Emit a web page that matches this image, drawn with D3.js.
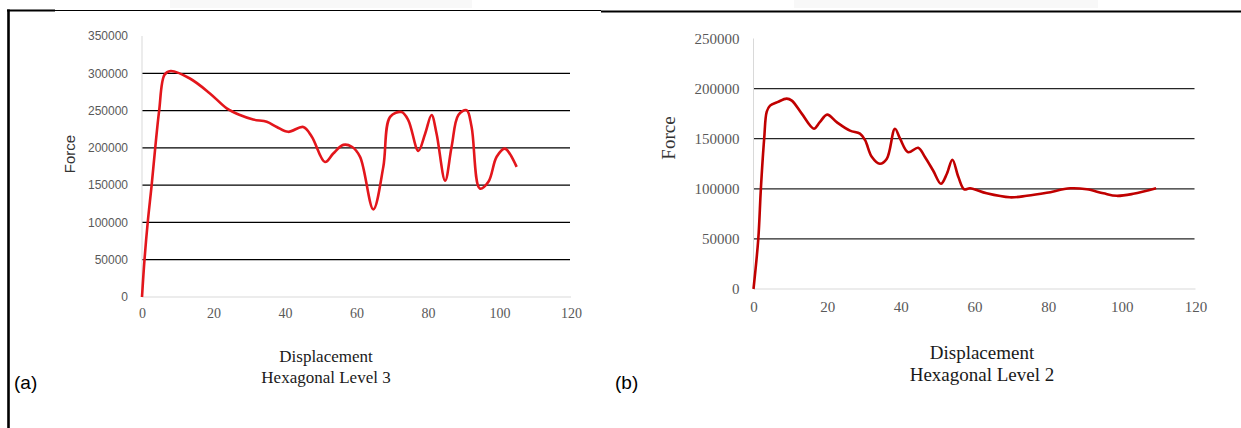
<!DOCTYPE html>
<html>
<head>
<meta charset="utf-8">
<script src="https://cdn.jsdelivr.net/npm/d3@7"></script>
<style>
    body { margin: 0; background: #fff; }
    svg { display: block; }
</style>
</head>
<body>
<svg id="fig" width="1241" height="428"></svg>
<script>
// ---- data ----
const xTicks = [0, 20, 40, 60, 80, 100, 120];

// (a) Hexagonal Level 3
const yTicksA = [0, 50000, 100000, 150000, 200000, 250000, 300000, 350000];
const gridA = [50000, 100000, 150000, 200000, 250000, 300000];
const dispA = [0, 0.7, 1.6, 2.7, 3.7, 4.8, 6.3, 8, 13.4, 19, 23.7, 27.4, 31.1, 34.9, 37.7, 40.9, 45.1, 47.5,
    51.2, 53.5, 56.3, 58.7, 61, 64.7, 67.5, 69.4, 72.6, 74.5, 77.3, 79.2, 81, 82.4, 84.8, 86.6, 88.5,
    90.8, 92.2, 94.5, 96.9, 99.2, 101.5, 104.8];
const forceA = [0, 50000, 100000, 150000, 200000, 250000, 298000, 303000, 293000, 273000, 253000, 244000,
    238000, 235000, 228000, 221500, 228000, 215000, 181000, 192500, 204000, 201500, 188000, 117500,
    174500, 241500, 248000, 237000, 196000, 219000, 244000, 219000, 156000, 201500, 244000, 250500,
    228000, 145500, 154500, 188000, 199000, 174500];

// (b) Hexagonal Level 2
const yTicksB = [0, 50000, 100000, 150000, 200000, 250000];
const gridB = [50000, 100000, 150000, 200000];
const dispB = [0, 1.3, 2.0, 2.9, 3.6, 4.5, 6.5, 9, 10.4, 13.1, 16.4, 18, 20, 22.6, 26.2, 28.9, 30.3, 32.1, 34.3,
    36.2, 38.4, 39.8, 42, 44.7, 46.5, 48.8, 50.9, 52.5, 54, 55.6, 57.2, 58.8, 63.3, 69.6, 74.2, 79.6,
    86, 90.5, 95, 98.6, 103.1, 109.3];
const forceB = [0, 50000, 100000, 150000, 177000, 183000, 186500, 190000, 188000, 175000, 160000, 166500, 174000,
    166500, 158000, 155000, 148500, 132000, 125000, 130000, 160000, 150000, 136500, 141000, 132000,
    118000, 105000, 115000, 129000, 112000, 99500, 100500, 95500, 91500, 93000, 96000, 100500, 99500,
    95500, 93000, 95000, 100500];

const svg = d3.select("#fig");

// table borders
svg.append("rect").attr("x", 170).attr("y", 0).attr("width", 302).attr("height", 8).attr("fill", "#f8f8f8");
svg.append("rect").attr("x", 794).attr("y", 0).attr("width", 304).attr("height", 8).attr("fill", "#f8f8f8");
svg.append("line").attr("x1", 7).attr("x2", 601).attr("y1", 10.5).attr("y2", 10.5)
    .attr("stroke", "#000").attr("stroke-width", 1.2);
svg.append("line").attr("x1", 7).attr("x2", 55).attr("y1", 10.5).attr("y2", 10.5)
    .attr("stroke", "#000").attr("stroke-width", 2.2);
svg.append("line").attr("x1", 601).attr("x2", 1241).attr("y1", 11.5).attr("y2", 11.5)
    .attr("stroke", "#000").attr("stroke-width", 2.2);
svg.append("line").attr("x1", 8.5).attr("x2", 8.5).attr("y1", 9.5).attr("y2", 428)
    .attr("stroke", "#000").attr("stroke-width", 2.6);

function drawChart(cfg) {
    const x = d3.scaleLinear().domain([0, 120]).range(cfg.xRange);
    const y = d3.scaleLinear().domain([0, cfg.yMax]).range(cfg.yRange);
    const g = svg.append("g");

    // gridlines
    g.selectAll("line.grid").data(cfg.grid).join("line")
        .attr("class", "grid")
        .attr("x1", x(0)).attr("x2", x(120) - 1)
        .attr("y1", d => y(d)).attr("y2", d => y(d))
        .attr("stroke", cfg.gridColor).attr("stroke-width", 1.3);

    // axis lines
    g.append("line").attr("x1", x(0)).attr("x2", x(0))
        .attr("y1", y(cfg.yMax)).attr("y2", y(0))
        .attr("stroke", "#d9d9d9").attr("stroke-width", 1);
    g.append("line").attr("x1", x(0)).attr("x2", x(120))
        .attr("y1", y(0)).attr("y2", y(0))
        .attr("stroke", "#d9d9d9").attr("stroke-width", 1);

    const yAxis = g.append("g")
        .attr("transform", `translate(${x(0)},0)`)
        .call(d3.axisLeft(y).tickValues(cfg.yTicks).tickSize(0).tickPadding(14).tickFormat(d3.format("d")));
    yAxis.select(".domain").remove();
    yAxis.selectAll("text")
        .attr("fill", "#595959")
        .style("font-family", cfg.yFont)
        .style("font-size", cfg.yFontSize + "px");

    const xAxis = g.append("g")
        .attr("transform", `translate(0,${y(0)})`)
        .call(d3.axisBottom(x).tickValues(xTicks).tickSize(0).tickPadding(cfg.xPad));
    xAxis.select(".domain").remove();
    xAxis.selectAll("text")
        .attr("fill", "#595959")
        .style("font-family", "'Liberation Serif', serif")
        .style("font-size", cfg.xFontSize + "px");

    const line = d3.line()
        .x(d => x(d[0]))
        .y(d => y(d[1]))
        .curve(d3.curveCatmullRom.alpha(0.5));

    g.append("path")
        .datum(d3.zip(cfg.disp, cfg.force))
        .attr("d", line)
        .attr("fill", "none")
        .attr("stroke", cfg.color)
        .attr("stroke-width", 2.6)
        .attr("stroke-linejoin", "round");

    // labels
    g.append("text")
        .attr("transform", `translate(${cfg.forcePos[0]},${cfg.forcePos[1]}) rotate(-90)`)
        .attr("text-anchor", "middle")
        .attr("dominant-baseline", "central")
        .style("font-family", cfg.forceFont)
        .style("font-size", cfg.forceSize + "px")
        .attr("fill", "#333")
        .text("Force");

    g.append("text")
        .attr("x", cfg.titleX).attr("y", cfg.titleY[0])
        .attr("text-anchor", "middle")
        .style("font-family", "'Liberation Serif', serif")
        .style("font-size", cfg.titleSize + "px")
        .attr("fill", "#1a1a1a")
        .text("Displacement");
    g.append("text")
        .attr("x", cfg.titleX).attr("y", cfg.titleY[1])
        .attr("text-anchor", "middle")
        .style("font-family", "'Liberation Serif', serif")
        .style("font-size", cfg.titleSize + "px")
        .attr("fill", "#1a1a1a")
        .text(cfg.subtitle);

    g.append("text")
        .attr("x", cfg.tagX).attr("y", 389)
        .style("font-family", "'Liberation Sans', sans-serif")
        .style("font-size", "19px")
        .attr("fill", "#000")
        .text(cfg.tag);
}

drawChart({
    xRange: [142, 571], yRange: [297, 36], yMax: 350000,
    yTicks: yTicksA, grid: gridA, gridColor: "#000",
    yFont: "'Liberation Sans', sans-serif", yFontSize: 12,
    xFontSize: 14, xPad: 11,
    disp: dispA, force: forceA, color: "#e3161c",
    forcePos: [69, 154], forceFont: "'Liberation Sans', sans-serif", forceSize: 15,
    titleX: 326, titleY: [362, 383], titleSize: 17, subtitle: "Hexagonal Level 3",
    tagX: 14, tag: "(a)"
});

drawChart({
    xRange: [753.5, 1195.5], yRange: [289, 38.5], yMax: 250000,
    yTicks: yTicksB, grid: gridB, gridColor: "#262626",
    yFont: "'Liberation Serif', serif", yFontSize: 15,
    xFontSize: 15, xPad: 12,
    disp: dispB, force: forceB, color: "#c00000",
    forcePos: [668, 138], forceFont: "'Liberation Serif', serif", forceSize: 19,
    titleX: 982, titleY: [359, 381], titleSize: 19, subtitle: "Hexagonal Level 2",
    tagX: 615, tag: "(b)"
});
</script>
</body>
</html>
